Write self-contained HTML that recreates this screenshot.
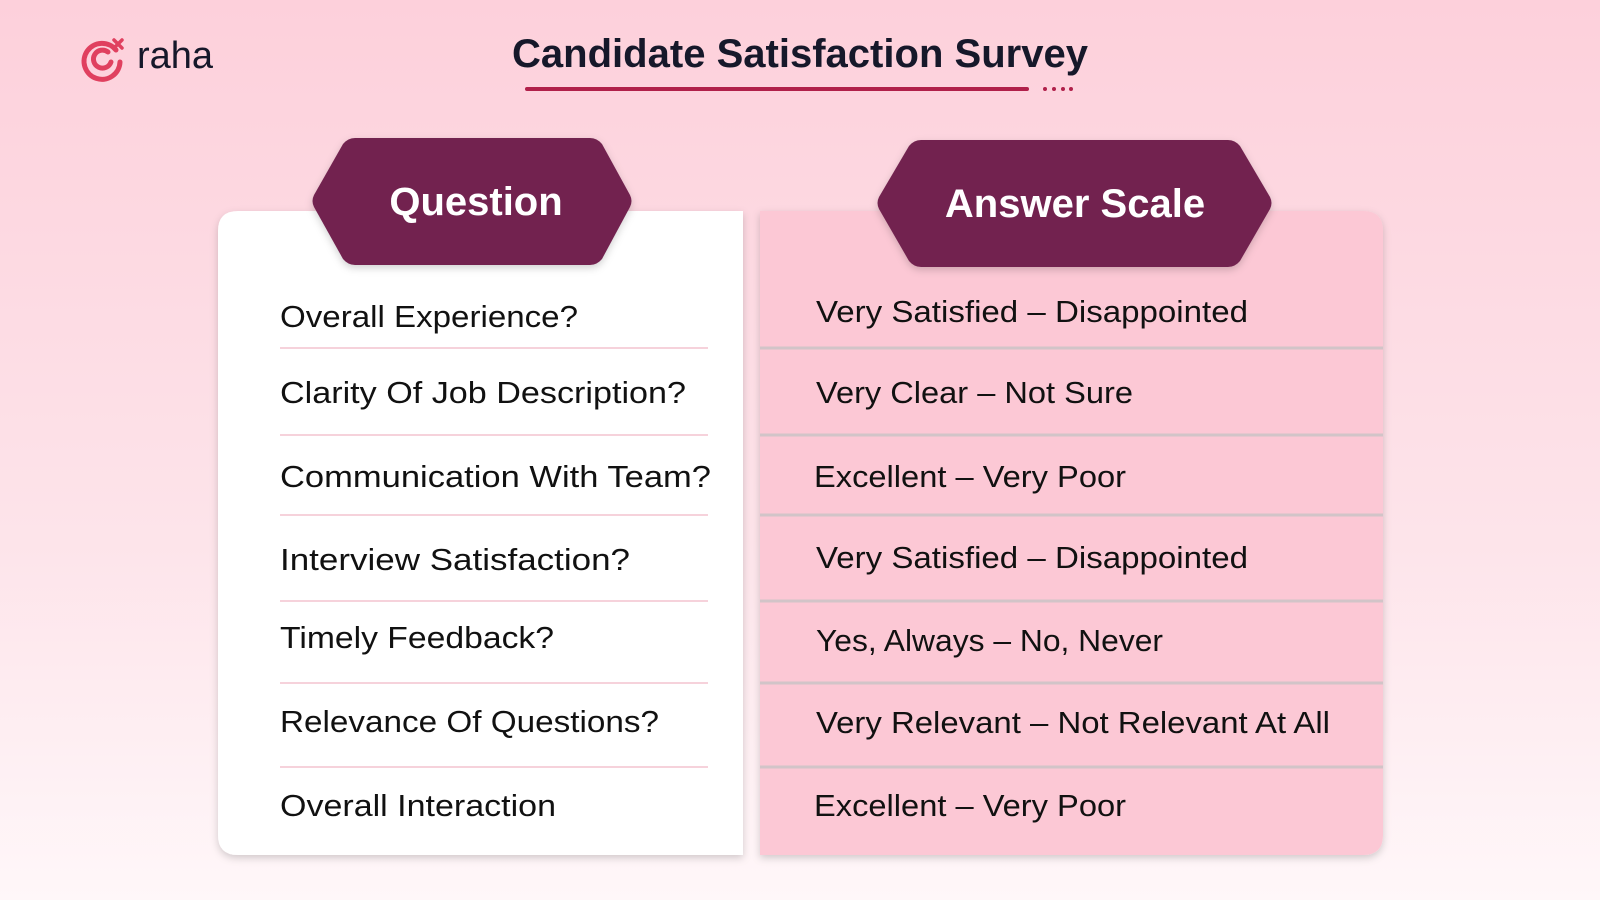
<!DOCTYPE html>
<html><head><meta charset="utf-8"><style>
html,body{margin:0;padding:0;width:1600px;height:900px;overflow:hidden}
svg{display:block}
text{font-family:"Liberation Sans",sans-serif}
</style></head><body>
<svg width="1600" height="900" viewBox="0 0 1600 900">
<defs>
<linearGradient id="bg" x1="0" y1="0" x2="0" y2="1">
<stop offset="0" stop-color="#fdd0db"/><stop offset="0.6" stop-color="#fde4ea"/><stop offset="1" stop-color="#fff7f9"/>
</linearGradient>
<filter id="sh" x="-10%" y="-10%" width="120%" height="120%"><feDropShadow dx="0" dy="3" stdDeviation="4" flood-color="#000" flood-opacity="0.18"/></filter>
</defs>
<rect width="1600" height="900" fill="url(#bg)"/>
<g>
<path d="M116 50 A18 18 0 1 0 120 62" fill="none" stroke="#e0405f" stroke-width="5" stroke-linecap="round"/>
<path d="M108 52 A9 9 0 1 0 111 62" fill="none" stroke="#e0405f" stroke-width="5" stroke-linecap="round"/>
<path d="M114 40 l8 8 M122 40 l-8 8" stroke="#e0405f" stroke-width="3.5" stroke-linecap="round"/>
<text x="137" y="68" font-size="38" fill="#16182a">raha</text>
</g>
<text x="512" y="67" font-size="40" font-weight="bold" fill="#16182a" textLength="576" lengthAdjust="spacingAndGlyphs">Candidate Satisfaction Survey</text>
<rect x="525" y="87" width="504" height="4" rx="2" fill="#b0204a"/>
<g fill="#b0204a">
<circle cx="1045" cy="89" r="2"/><circle cx="1054" cy="89" r="2"/><circle cx="1063" cy="89" r="2"/><circle cx="1071" cy="89" r="2"/></g>

<path d="M238 211 H743 V855 H238 Q218 855 218 835 V231 Q218 211 238 211Z" fill="#fff" filter="url(#sh)"/>
<path d="M760 211 H1363 Q1383 211 1383 231 V835 Q1383 855 1363 855 H760Z" fill="#fcc8d5" filter="url(#sh)"/>

<g stroke="#f3c4cf" stroke-width="1.5">
<line x1="280" x2="708" y1="348" y2="348"/><line x1="280" x2="708" y1="435" y2="435"/><line x1="280" x2="708" y1="515" y2="515"/><line x1="280" x2="708" y1="601" y2="601"/><line x1="280" x2="708" y1="683" y2="683"/><line x1="280" x2="708" y1="767" y2="767"/></g>
<g stroke="#d2c4c8" stroke-width="3">
<line x1="760" x2="1383" y1="348" y2="348"/><line x1="760" x2="1383" y1="435" y2="435"/><line x1="760" x2="1383" y1="515" y2="515"/><line x1="760" x2="1383" y1="601" y2="601"/><line x1="760" x2="1383" y1="683" y2="683"/><line x1="760" x2="1383" y1="767" y2="767"/></g>

<path d="M355 138 H590 Q597 138 602 144 L630 195 Q633 201 630 207 L602 259 Q597 265 590 265 H355 Q348 265 343 259 L314 207 Q311 201 314 195 L343 144 Q348 138 355 138Z" fill="#722350" filter="url(#sh)"/>
<text x="476" y="215" font-size="40" font-weight="bold" fill="#fff" text-anchor="middle">Question</text>
<path d="M921 140 H1228 Q1235 140 1240 146 L1270 197 Q1273 203 1270 209 L1240 261 Q1235 267 1228 267 H921 Q914 267 909 261 L879 209 Q876 203 879 197 L909 146 Q914 140 921 140Z" fill="#722350" filter="url(#sh)"/>
<text x="1075" y="217" font-size="40" font-weight="bold" fill="#fff" text-anchor="middle">Answer Scale</text>

<g font-size="31" fill="#111">
<text x="280" y="327" textLength="298" lengthAdjust="spacingAndGlyphs">Overall Experience?</text>
<text x="280" y="403" textLength="406" lengthAdjust="spacingAndGlyphs">Clarity Of Job Description?</text>
<text x="280" y="487" textLength="431" lengthAdjust="spacingAndGlyphs">Communication With Team?</text>
<text x="280" y="570" textLength="350" lengthAdjust="spacingAndGlyphs">Interview  Satisfaction?</text>
<text x="280" y="648" textLength="274" lengthAdjust="spacingAndGlyphs">Timely Feedback?</text>
<text x="280" y="732" textLength="379" lengthAdjust="spacingAndGlyphs">Relevance Of Questions?</text>
<text x="280" y="816" textLength="276" lengthAdjust="spacingAndGlyphs">Overall Interaction</text>
</g>
<g font-size="31" fill="#111">
<text x="816" y="322" textLength="432" lengthAdjust="spacingAndGlyphs">Very Satisfied – Disappointed</text>
<text x="816" y="403" textLength="317" lengthAdjust="spacingAndGlyphs">Very Clear – Not Sure</text>
<text x="814" y="487" textLength="312" lengthAdjust="spacingAndGlyphs">Excellent – Very Poor</text>
<text x="816" y="568" textLength="432" lengthAdjust="spacingAndGlyphs">Very Satisfied – Disappointed</text>
<text x="816" y="651" textLength="347" lengthAdjust="spacingAndGlyphs">Yes, Always – No, Never</text>
<text x="816" y="733" textLength="514" lengthAdjust="spacingAndGlyphs">Very Relevant – Not Relevant At All</text>
<text x="814" y="816" textLength="312" lengthAdjust="spacingAndGlyphs">Excellent – Very Poor</text>
</g>
</svg>
</body></html>
